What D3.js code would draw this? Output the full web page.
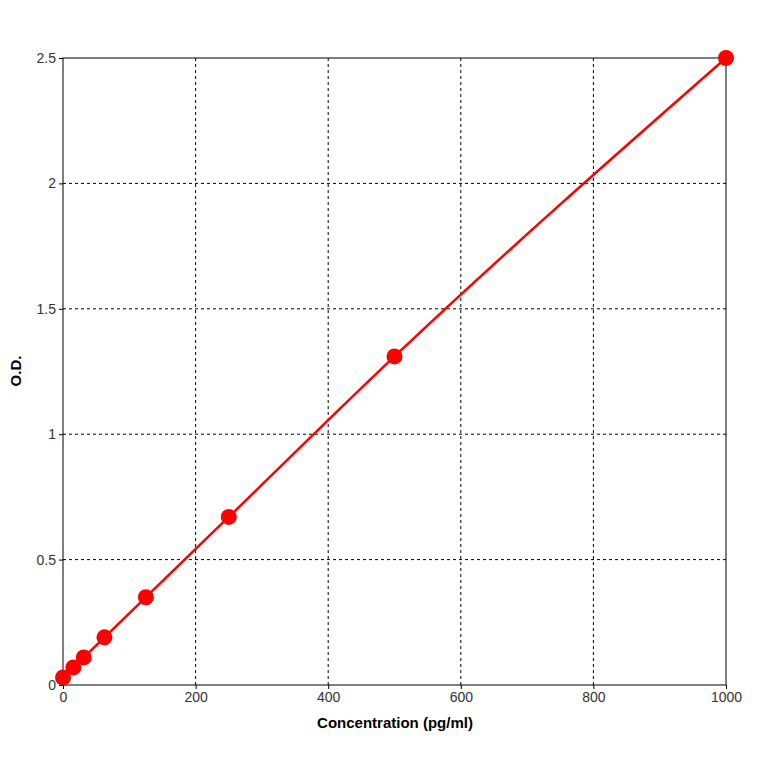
<!DOCTYPE html>
<html><head><meta charset="utf-8">
<script src="https://cdn.jsdelivr.net/npm/d3@7"></script>
<style>body{margin:0;background:#fff}text{font-family:"Liberation Sans",Arial,sans-serif}</style>
</head><body>
<svg id="chart" width="764" height="764"></svg>
<script>
var concentrations = [0, 15.6, 31.25, 62.5, 125, 250, 500, 1000];
var odValues = [0.03, 0.07, 0.11, 0.19, 0.35, 0.67, 1.31, 2.5];
var xTicks = [0, 200, 400, 600, 800, 1000];
var yTicks = [0, 0.5, 1, 1.5, 2, 2.5];

var plotLeft = 63, plotRight = 726, plotTop = 58, plotBottom = 685;
var svg = d3.select("#chart");
var x = d3.scaleLinear().domain([0, 1000]).range([plotLeft, plotRight]);
var y = d3.scaleLinear().domain([0, 2.5]).range([plotBottom, plotTop]);

// grid
svg.append("g").selectAll("line").data(xTicks.slice(1, -1)).join("line")
  .attr("x1", d => x(d)).attr("x2", d => x(d)).attr("y1", plotTop).attr("y2", plotBottom)
  .attr("stroke", "#000").attr("stroke-dasharray", "3,3");
svg.append("g").selectAll("line").data(yTicks.slice(1, -1)).join("line")
  .attr("y1", d => y(d)).attr("y2", d => y(d)).attr("x1", plotLeft).attr("x2", plotRight)
  .attr("stroke", "#000").attr("stroke-dasharray", "3,3");

svg.append("rect").attr("x", plotLeft).attr("y", plotTop)
  .attr("width", plotRight - plotLeft).attr("height", plotBottom - plotTop)
  .attr("fill", "none").attr("stroke", "#000");

svg.append("g").attr("transform", `translate(0,${plotBottom})`)
  .call(d3.axisBottom(x).tickValues(xTicks).tickSize(4).tickFormat(d3.format("d")))
  .call(g => g.select(".domain").remove())
  .selectAll("text").attr("font-size", 14).attr("fill", "#333");
svg.append("g").attr("transform", `translate(${plotLeft},0)`)
  .call(d3.axisLeft(y).tickValues(yTicks).tickSize(4).tickFormat(d => d))
  .call(g => g.select(".domain").remove())
  .selectAll("text").attr("font-size", 14).attr("fill", "#333");

svg.append("text").attr("x", 395).attr("y", 728).attr("text-anchor", "middle")
  .attr("font-size", 15).attr("font-weight", "bold").text("Concentration (pg/ml)");
svg.append("text").attr("transform", "translate(21,371) rotate(-90)").attr("text-anchor", "middle")
  .attr("font-size", 15).attr("font-weight", "bold").text("O.D.");

var pts = concentrations.map((c, i) => [c, odValues[i]]);
svg.append("path").datum(pts)
  .attr("d", d3.line().x(d => x(d[0])).y(d => y(d[1])).curve(d3.curveMonotoneX))
  .attr("fill", "none").attr("stroke", "#ff0000").attr("stroke-width", 2.5);
svg.append("g").selectAll("circle").data(pts).join("circle")
  .attr("cx", d => x(d[0])).attr("cy", d => y(d[1])).attr("r", 8).attr("fill", "#ff0000");
</script>
</body></html>
